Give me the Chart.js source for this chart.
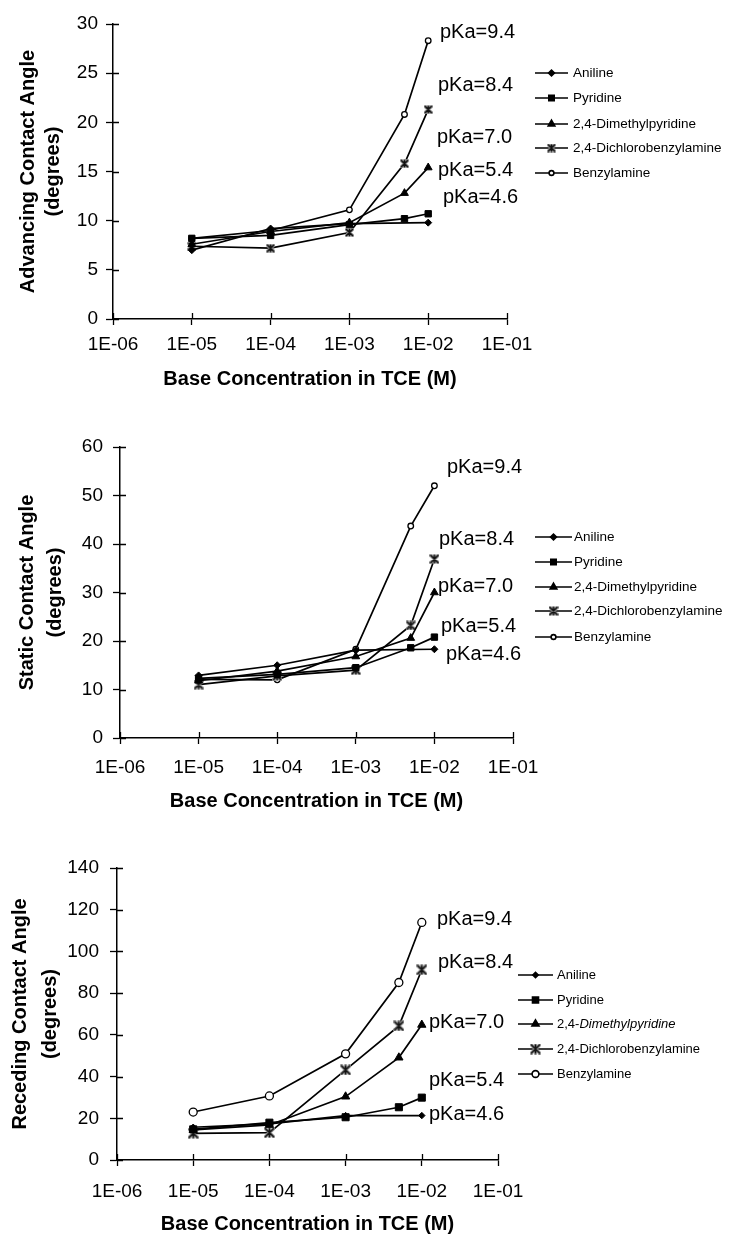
<!DOCTYPE html>
<html><head><meta charset="utf-8">
<script src="https://cdn.jsdelivr.net/npm/chart.js@4.4.1/dist/chart.umd.min.js"></script>
<style>
html,body{margin:0;padding:0;background:#fff;}
#wrap{position:relative;width:729px;height:1234px;overflow:hidden;background:#fff;}
canvas{position:absolute;left:0;}
</style></head><body>
<div id="wrap">
<canvas id="c1" width="729" height="400" style="top:0px"></canvas>
<canvas id="c2" width="729" height="410" style="top:410px"></canvas>
<canvas id="c3" width="729" height="414" style="top:820px"></canvas>
</div>
<script>
// ---------- data ----------
const concentrations = [1e-5, 1e-4, 1e-3, 5e-3, 1e-2];
const seriesNames = ['Aniline', 'Pyridine', '2,4-Dimethylpyridine', '2,4-Dichlorobenzylamine', 'Benzylamine'];
const xTickValues = [1e-6, 1e-5, 1e-4, 1e-3, 1e-2, 1e-1];
const xTickLabels = ['1E-06', '1E-05', '1E-04', '1E-03', '1E-02', '1E-01'];
const pKaLabels = ['pKa=9.4', 'pKa=8.4', 'pKa=7.0', 'pKa=5.4', 'pKa=4.6'];
const xTitle = 'Base Concentration in TCE (M)';

// Advancing contact angle (degrees)
const advAniline  = [7.0, 9.2, 9.7, null, 9.8];
const advPyridine = [8.2, 8.5, 9.6, 10.2, 10.7];
const advDimethyl = [7.6, 8.9, 9.8, 12.8, 15.4];
const advDichloro = [7.4, 7.2, 8.8, 15.8, 21.3];
const advBenzyl   = [8.2, 9.0, 11.1, 20.8, 28.3];

// Static contact angle (degrees)
const staAniline  = [12.9, 15.0, 18.1, null, 18.3];
const staPyridine = [12.3, 13.1, 14.5, 18.6, 20.8];
const staDimethyl = [11.8, 13.8, 16.8, 20.6, 30.0];
const staDichloro = [11.0, 12.8, 14.0, 23.2, 36.9];
const staBenzyl   = [12.1, 12.0, 18.3, 43.7, 52.0];

// Receding contact angle (degrees)
const recAniline  = [15.7, 17.3, 21.3, null, 21.3];
const recPyridine = [14.7, 17.9, 20.5, 25.3, 29.9];
const recDimethyl = [14.4, 16.8, 30.4, 49.1, 64.8];
const recDichloro = [12.8, 13.1, 43.2, 64.3, 91.2];
const recBenzyl   = [23.0, 30.7, 50.9, 85.1, 113.9];

// ---------- styling ----------
Chart.defaults.font.family = "'Liberation Sans', Arial, sans-serif";
Chart.defaults.color = '#000';

function makeStar(size) {
  const c = document.createElement('canvas');
  c.width = size; c.height = size;
  const g = c.getContext('2d');
  const m = 1.5, e = size - 1.5, h = size / 2;
  const draw = () => {
    g.beginPath();
    g.moveTo(m, m); g.lineTo(e, e);
    g.moveTo(e, m); g.lineTo(m, e);
    g.moveTo(h, m); g.lineTo(h, e);
    g.stroke();
  };
  g.lineCap = 'round';
  g.strokeStyle = '#9a9a9a'; g.lineWidth = 3.2; draw();
  g.strokeStyle = '#111'; g.lineWidth = 1.6; draw();
  return c;
}

const overlayPlugin = {
  id: 'overlay',
  afterDraw(chart, args, o) {
    const ctx = chart.ctx;
    const {left, bottom} = chart.chartArea;
    const xs = chart.scales.x, ys = chart.scales.y;
    ctx.save();
    ctx.strokeStyle = '#000';
    ctx.lineWidth = 1.3;
    ctx.beginPath();
    xs.ticks.forEach(t => { const px = Math.round(xs.getPixelForValue(t.value)) + 0.5; ctx.moveTo(px, bottom - o.inTick); ctx.lineTo(px, bottom); });
    ys.ticks.forEach(t => { const py = Math.round(ys.getPixelForValue(t.value)) + 0.5; ctx.moveTo(left, py); ctx.lineTo(left + o.inTick, py); });
    ctx.stroke();

    // legend
    chart.data.datasets.forEach((ds, i) => {
      const y = o.legendRows[i];
      ctx.strokeStyle = '#000';
      ctx.lineWidth = 1.6;
      ctx.beginPath(); ctx.moveTo(o.legendX0, y); ctx.lineTo(o.legendX1, y); ctx.stroke();
      ctx.fillStyle = ds.pointBackgroundColor;
      ctx.strokeStyle = '#000';
      Chart.helpers.drawPoint(ctx, {pointStyle: ds.pointStyle, radius: ds.pointRadius * o.legendScale, rotation: 0, borderWidth: ds.pointBorderWidth}, (o.legendX0 + o.legendX1) / 2, y);
      ctx.fillStyle = '#000';
      ctx.textBaseline = 'middle';
      ctx.textAlign = 'left';
      const label = ds.label;
      if (o.italicDimethyl && label.startsWith('2,4-Dimethyl')) {
        ctx.font = o.legendFont;
        ctx.fillText('2,4-', o.legendTextX, y);
        const w = ctx.measureText('2,4-').width;
        ctx.font = 'italic ' + o.legendFont;
        ctx.fillText(label.slice(4), o.legendTextX + w, y);
      } else {
        ctx.font = o.legendFont;
        ctx.fillText(label, o.legendTextX, y);
      }
    });

    // pKa annotations
    ctx.font = o.pkaFont;
    ctx.fillStyle = '#000';
    ctx.textBaseline = 'middle';
    ctx.textAlign = 'left';
    pKaLabels.forEach((t, i) => ctx.fillText(t, o.pkaPos[i][0], o.pkaPos[i][1]));
    ctx.restore();
  }
};

function buildChart(id, p) {
  const seriesData = p.series;
  const pointStyles = ['rectRot', 'rect', 'triangle', makeStar(p.starSize), 'circle'];
  const fills = ['#000', '#000', '#000', '#000', '#fff'];
  const datasets = seriesNames.map((name, i) => ({
    label: name,
    data: concentrations.map((c, k) => ({x: c, y: seriesData[i][k]})),
    borderColor: '#000',
    borderWidth: 1.7,
    pointStyle: pointStyles[i],
    pointRadius: p.radii[i],
    pointBackgroundColor: fills[i],
    pointBorderColor: '#000',
    pointBorderWidth: i === 4 ? 1.3 : 1,
    tension: 0,
    spanGaps: true
  }));
  return new Chart(document.getElementById(id), {
    type: 'line',
    data: {datasets},
    plugins: [overlayPlugin],
    options: {
      responsive: false,
      animation: false,
      devicePixelRatio: 1,
      layout: {padding: {left: 0, top: p.top, right: 729 - p.right, bottom: p.padBottom}},
      plugins: {
        legend: {display: false},
        tooltip: {enabled: false},
        overlay: {
          inTick: 6,
          legendRows: p.legendRows, legendX0: p.legendX0, legendX1: p.legendX1, legendTextX: p.legendTextX,
          legendFont: p.legendFont, legendScale: p.legendScale, italicDimethyl: p.italicDimethyl,
          pkaFont: '20px "Liberation Sans", Arial, sans-serif', pkaPos: p.pkaPos
        }
      },
      scales: {
        x: {
          type: 'logarithmic',
          min: xTickValues[0], max: xTickValues[xTickValues.length - 1],
          afterBuildTicks: s => { s.ticks = xTickValues.map(v => ({value: v})); },
          afterFit: s => { s.height = p.xH; },
          ticks: {
            autoSkip: false, maxRotation: 0, padding: p.xTickPad,
            font: {size: 19},
            callback: v => xTickLabels[xTickValues.indexOf(v)]
          },
          grid: {display: true, drawOnChartArea: false, drawTicks: true, tickLength: 6, tickColor: '#000', tickWidth: 1.3},
          border: {display: true, color: '#000', width: 1.5},
          title: {display: true, text: xTitle, padding: 0, font: {size: 20, weight: 'bold', lineHeight: 1.0}}
        },
        y: {
          min: 0, max: p.yMax,
          afterFit: s => { s.width = p.left; },
          ticks: {stepSize: p.yStep, padding: p.yTickPad, font: {size: 19}},
          grid: {display: true, drawOnChartArea: false, drawTicks: true, tickLength: 7, tickColor: '#000', tickWidth: 1.3},
          border: {display: true, color: '#000', width: 1.5},
          title: {display: true, text: p.yTitle, padding: {top: p.yTitlePadTop, bottom: 0}, font: {size: 20, weight: 'bold', lineHeight: p.yTitleLH}}
        }
      }
    }
  });
}

buildChart('c1', {
  series: [advAniline, advPyridine, advDimethyl, advDichloro, advBenzyl],
  radii: [3.5, 4.5, 4.5, 4, 2.8], starSize: 9,
  top: 24, right: 507, left: 113, padBottom: 11, xH: 70, xTickPad: 8.6, yTickPad: 8,
  yMax: 30, yStep: 5,
  yTitle: ['Advancing Contact Angle', '(degrees)'], yTitlePadTop: 15.5, yTitleLH: 1.25,
  legendRows: [73, 98, 124, 148, 173], legendX0: 535, legendX1: 568, legendTextX: 573,
  legendFont: '13.5px "Liberation Sans", Arial, sans-serif', legendScale: 0.85, italicDimethyl: false,
  pkaPos: [[440, 32], [438, 85], [437, 137], [438, 170], [443, 197]]
});

buildChart('c2', {
  series: [staAniline, staPyridine, staDimethyl, staDichloro, staBenzyl],
  radii: [3.5, 4.5, 4.5, 4, 2.8], starSize: 10,
  top: 37, right: 513, left: 120, padBottom: 9, xH: 73, xTickPad: 12.6, yTickPad: 10,
  yMax: 60, yStep: 10,
  yTitle: ['Static Contact Angle', '(degrees)'], yTitlePadTop: 13, yTitleLH: 1.4,
  legendRows: [127, 152, 177, 201, 227], legendX0: 535, legendX1: 572, legendTextX: 574,
  legendFont: '13.5px "Liberation Sans", Arial, sans-serif', legendScale: 0.85, italicDimethyl: false,
  pkaPos: [[447, 57], [439, 129], [438, 176], [441, 216], [446, 244]]
});

buildChart('c3', {
  series: [recAniline, recPyridine, recDimethyl, recDichloro, recBenzyl],
  radii: [3.2, 5, 4.8, 5, 4], starSize: 11,
  top: 48, right: 498, left: 117, padBottom: 0, xH: 74, xTickPad: 14.6, yTickPad: 11,
  yMax: 140, yStep: 20,
  yTitle: ['Receding Contact Angle', '(degrees)'], yTitlePadTop: 5, yTitleLH: 1.5,
  legendRows: [155, 180, 204, 229, 254], legendX0: 518, legendX1: 553, legendTextX: 557,
  legendFont: '13px "Liberation Sans", Arial, sans-serif', legendScale: 0.85, italicDimethyl: true,
  pkaPos: [[437, 99], [438, 142], [429, 202], [429, 260], [429, 294]]
});
</script>
</body></html>
